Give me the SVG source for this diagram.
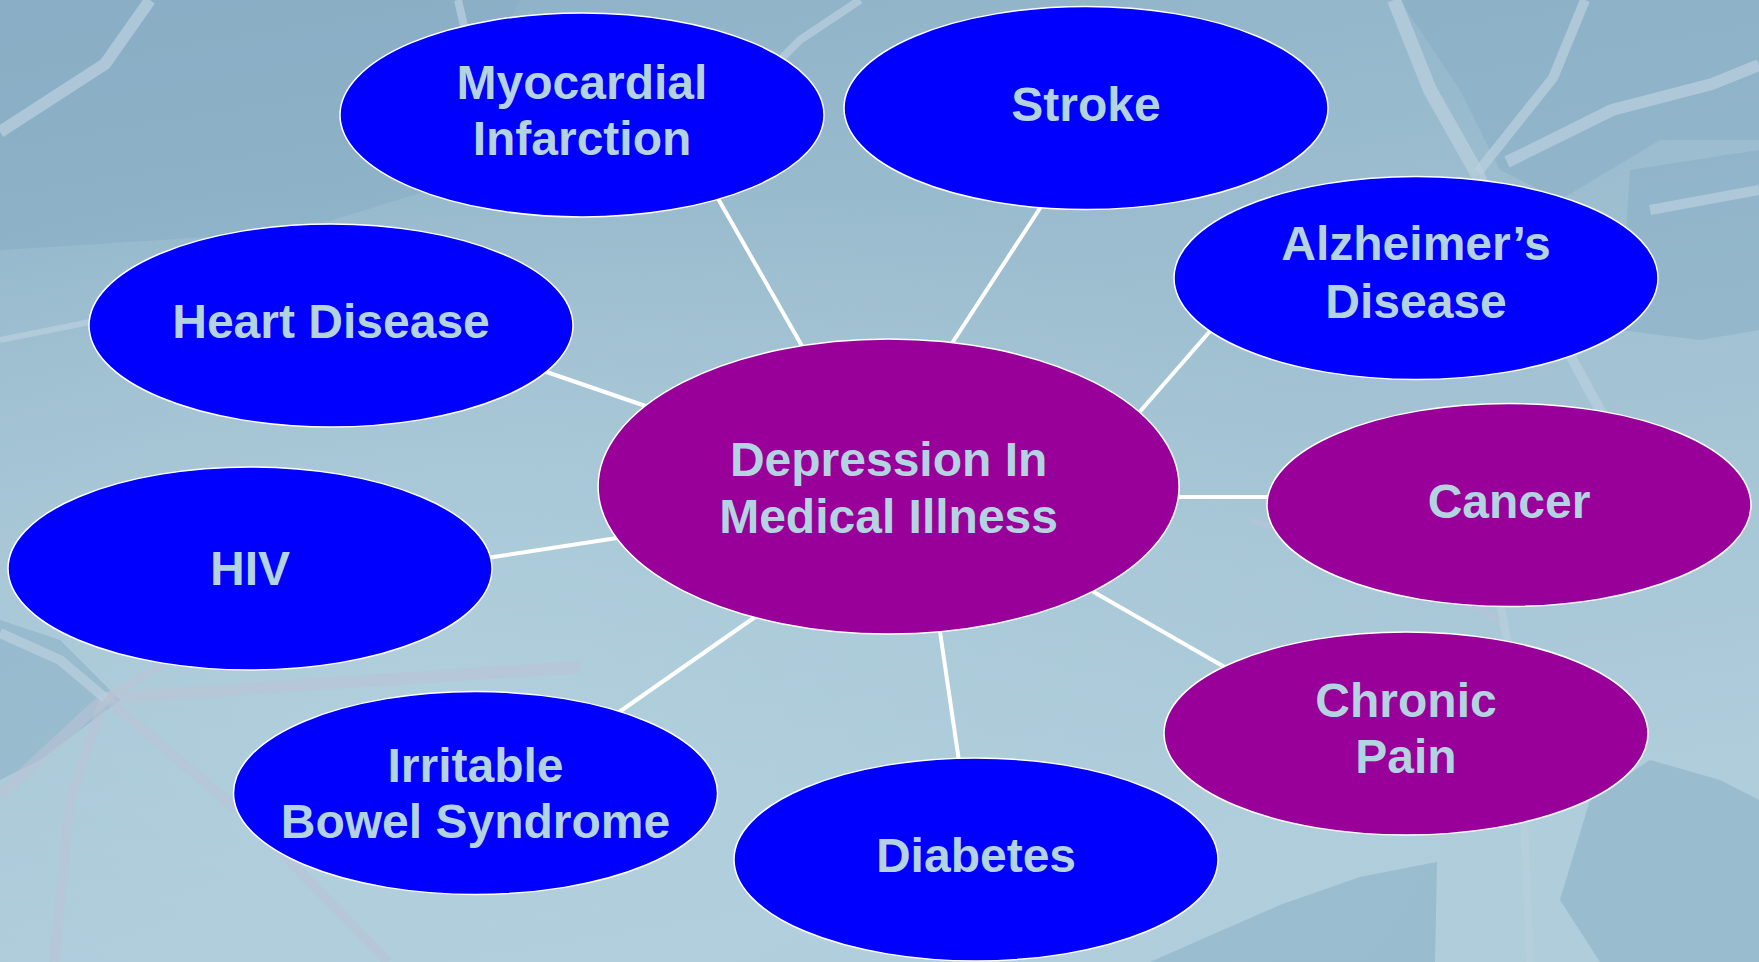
<svg xmlns="http://www.w3.org/2000/svg" width="1759" height="962" viewBox="0 0 1759 962">
  <defs>
    <linearGradient id="bg" x1="0" y1="0" x2="0.3" y2="1">
      <stop offset="0" stop-color="#8cb0c6"/>
      <stop offset="0.5" stop-color="#9fc0d1"/>
      <stop offset="1" stop-color="#afcddb"/>
    </linearGradient>
    <radialGradient id="glow" cx="0.25" cy="0.75" r="0.6">
      <stop offset="0" stop-color="#b3d1de" stop-opacity="0.8"/>
      <stop offset="1" stop-color="#b3d1de" stop-opacity="0"/>
    </radialGradient>
  </defs>
  <style>
    .node-blue { fill: #0000ff; stroke: #ffffff; stroke-width: 1.5; }
    .node-purple { fill: #990099; stroke: #ffffff; stroke-width: 1.5; }
    .label { font-family: "Liberation Sans", Arial, sans-serif; font-weight: bold; font-size: 48px; fill: #b4d3e1; text-anchor: middle; }
    .conn { stroke: #ffffff; stroke-width: 4; stroke-linecap: butt; fill: none; }
    .dark { fill: #86acc3; opacity: 0.5; }
    .crack { fill: none; stroke: #b8cfdd; stroke-linejoin: round; stroke-linecap: butt; opacity: 0.75; }
    .crackp { fill: none; stroke: #b9c3d6; stroke-linejoin: round; stroke-linecap: butt; opacity: 0.6; }
  </style>

  <!-- background -->
  <rect x="0" y="0" width="1759" height="962" fill="url(#bg)"/>
  <rect x="0" y="0" width="1759" height="962" fill="url(#glow)"/>
  <g id="texture">
    <polygon class="dark" points="0,0 520,0 500,40 470,120 440,170 430,190 300,230 160,240 0,250"/>
    <polygon class="dark" points="1400,0 1759,0 1759,140 1660,140 1560,200 1500,170 1460,90"/>
    <polygon class="dark" points="1630,170 1759,150 1759,330 1700,340 1620,330"/>
    <polygon class="dark" points="1150,962 1280,905 1360,877 1437,862 1435,962"/>
    <polygon class="dark" points="1590,800 1650,760 1720,780 1759,800 1759,962 1600,962 1560,900"/>
    <polygon class="dark" points="0,620 60,640 120,700 40,760 0,780"/>
    <polygon class="dark" points="1130,60 1200,40 1260,80 1240,140 1190,160"/>
    <path class="crack" stroke-width="12" d="M0,132 L105,64 L150,0"/>
    <path class="crack" stroke-width="8" d="M458,0 L465,30"/>
    <path class="crack" stroke-width="14" d="M1394,0 L1430,90 L1478,175 L1500,240"/>
    <path class="crack" stroke-width="10" d="M1585,0 L1553,78 L1478,172"/>
    <path class="crack" stroke-width="12" d="M1759,65 L1712,84 L1612,110 L1507,162"/>
    <path class="crack" stroke-width="10" d="M1570,355 L1600,410 L1640,470"/>
    <path class="crack" stroke-width="8" d="M860,0 L800,40 L780,60"/>
    <path class="crack" stroke-width="10" d="M1650,210 L1759,190"/>
    <path class="crack" stroke-width="6" d="M0,340 L100,320 L200,330"/>
    <path class="crack" stroke-width="8" d="M1460,640 L1530,700 L1600,760"/>
    <path class="crack" stroke-width="8" d="M1500,600 L1520,720 L1530,962"/>
    <path class="crackp" stroke-width="12" d="M0,795 L105,698 L580,667"/>
    <path class="crackp" stroke-width="10" d="M105,698 L70,800 L54,962"/>
    <path class="crackp" stroke-width="10" d="M105,698 L250,820 L388,962"/>
    <path class="crackp" stroke-width="8" d="M105,698 L170,660 L190,640"/>
    <path class="crack" stroke-width="10" d="M0,633 L60,660 L105,698"/>
    <path class="crackp" stroke-width="6" d="M1250,520 L1380,560 L1500,620"/>
  </g>

  <!-- connectors -->
  <g id="connectors">
    <line class="conn" x1="712" y1="188" x2="810" y2="360"/>
    <line class="conn" x1="1046" y1="199" x2="945" y2="354"/>
    <line class="conn" x1="1218" y1="322" x2="1130" y2="423"/>
    <line class="conn" x1="535" y1="368" x2="660" y2="411"/>
    <line class="conn" x1="1170" y1="497" x2="1280" y2="497"/>
    <line class="conn" x1="480" y1="559" x2="630" y2="536"/>
    <line class="conn" x1="1085" y1="587" x2="1235" y2="673"/>
    <line class="conn" x1="612" y1="717" x2="765" y2="610"/>
    <line class="conn" x1="939" y1="625" x2="960" y2="768"/>
  </g>

  <g id="node-myocardial">
    <ellipse class="node-blue" cx="582" cy="115" rx="242" ry="102"/>
    <text class="label" x="582" y="99">Myocardial</text>
    <text class="label" x="582" y="155">Infarction</text>
  </g>
  <g id="node-stroke">
    <ellipse class="node-blue" cx="1086" cy="108" rx="242" ry="101.5"/>
    <text class="label" x="1086" y="121">Stroke</text>
  </g>
  <g id="node-alzheimers">
    <ellipse class="node-blue" cx="1416" cy="278" rx="242" ry="101.5"/>
    <text class="label" x="1416" y="260">Alzheimer’s</text>
    <text class="label" x="1416" y="318">Disease</text>
  </g>
  <g id="node-heart">
    <ellipse class="node-blue" cx="331" cy="325.5" rx="242" ry="101.5"/>
    <text class="label" x="331" y="338">Heart Disease</text>
  </g>
  <g id="node-cancer">
    <ellipse class="node-purple" cx="1509" cy="505" rx="242" ry="101.5"/>
    <text class="label" x="1509" y="518">Cancer</text>
  </g>
  <g id="node-hiv">
    <ellipse class="node-blue" cx="250" cy="568.5" rx="242" ry="101.5"/>
    <text class="label" x="250" y="585">HIV</text>
  </g>
  <g id="node-chronic">
    <ellipse class="node-purple" cx="1406" cy="733.5" rx="242" ry="101.5"/>
    <text class="label" x="1406" y="716.5">Chronic</text>
    <text class="label" x="1406" y="773">Pain</text>
  </g>
  <g id="node-ibs">
    <ellipse class="node-blue" cx="475.5" cy="793" rx="242" ry="101.5"/>
    <text class="label" x="475.5" y="781.5">Irritable</text>
    <text class="label" x="475.5" y="838">Bowel Syndrome</text>
  </g>
  <g id="node-diabetes">
    <ellipse class="node-blue" cx="976" cy="859.5" rx="242" ry="101.5"/>
    <text class="label" x="976" y="871.5">Diabetes</text>
  </g>
  <g id="node-center">
    <ellipse class="node-purple" cx="888.6" cy="486.5" rx="290.5" ry="147.5"/>
    <text class="label" x="888.6" y="476">Depression In</text>
    <text class="label" x="888.6" y="533">Medical Illness</text>
  </g>
</svg>
